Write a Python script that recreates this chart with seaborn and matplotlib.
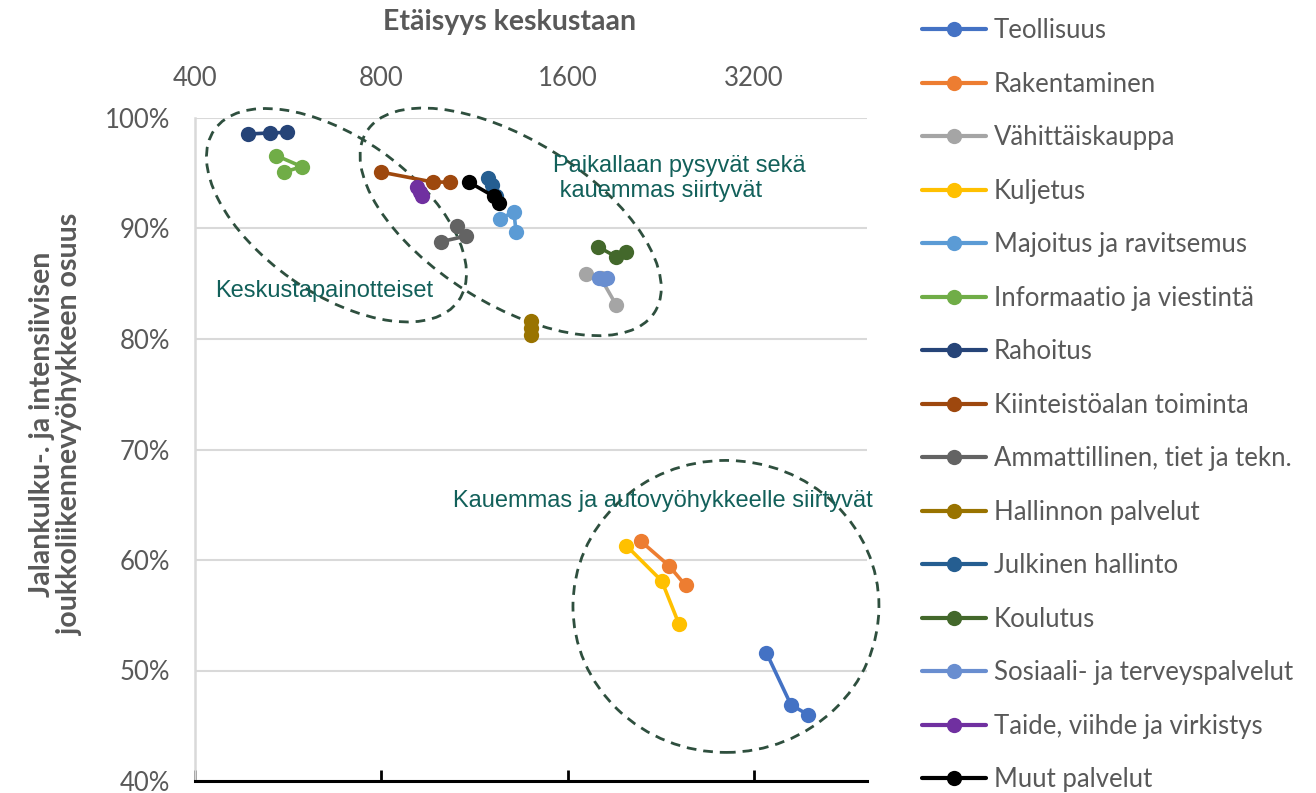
import pandas as pd
import matplotlib
matplotlib.use("Agg")
import matplotlib.pyplot as plt
import seaborn as sns
from matplotlib.lines import Line2D
from matplotlib.patches import Ellipse
from matplotlib.transforms import ScaledTranslation
from matplotlib.ticker import FuncFormatter, NullLocator

# --- DATA ---
toimialat = ["Teollisuus", "Rakentaminen", "Vähittäiskauppa", "Kuljetus",
             "Majoitus ja ravitsemus", "Informaatio ja viestintä", "Rahoitus",
             "Kiinteistöalan toiminta", "Ammattillinen, tiet ja tekn.",
             "Hallinnon palvelut", "Julkinen hallinto", "Koulutus",
             "Sosiaali- ja terveyspalvelut", "Taide, viihde ja virkistys",
             "Muut palvelut"]
varit = ["#4472C4", "#ED7D31", "#A5A5A5", "#FFC000", "#5B9BD5", "#70AD47",
         "#264478", "#9E480E", "#636363", "#997300", "#255E91", "#43682B",
         "#698ED0", "#7030A0", "#000000"]

# distance to centre (m) and share (%) for three points per industry
teollisuus_x = [3350, 3670, 3910]
teollisuus_y = [51.6, 46.9, 46.0]
rakentaminen_x = [2100, 2330, 2480]
rakentaminen_y = [61.7, 59.5, 57.7]
vahittais_x = [1710, 1810, 1915]
vahittais_y = [85.9, 85.5, 83.1]
kuljetus_x = [1990, 2270, 2420]
kuljetus_y = [61.3, 58.1, 54.2]
majoitus_x = [1245, 1310, 1320]
majoitus_y = [90.9, 91.5, 89.7]
informaatio_x = [541, 595, 557]
informaatio_y = [96.6, 95.6, 95.1]
rahoitus_x = [488, 529, 564]
rahoitus_y = [98.55, 98.65, 98.7]
kiinteisto_x = [800, 970, 1034]
kiinteisto_y = [95.1, 94.2, 94.2]
ammatillinen_x = [997, 1094, 1061]
ammatillinen_y = [88.8, 89.3, 90.2]
hallinnon_x = [1394, 1394, 1394]
hallinnon_y = [81.6, 81.0, 80.4]
julkinen_x = [1188, 1206, 1225]
julkinen_y = [94.6, 93.9, 92.9]
koulutus_x = [1791, 1914, 1986]
koulutus_y = [88.35, 87.45, 87.9]
sosiaali_x = [1800, 1830, 1850]
sosiaali_y = [85.55, 85.45, 85.5]
taide_x = [914, 922, 931]
taide_y = [93.8, 93.3, 92.9]
muut_x = [1108, 1216, 1239]
muut_y = [94.2, 92.9, 92.3]

xs = [teollisuus_x, rakentaminen_x, vahittais_x, kuljetus_x, majoitus_x,
      informaatio_x, rahoitus_x, kiinteisto_x, ammatillinen_x, hallinnon_x,
      julkinen_x, koulutus_x, sosiaali_x, taide_x, muut_x]
ys = [teollisuus_y, rakentaminen_y, vahittais_y, kuljetus_y, majoitus_y,
      informaatio_y, rahoitus_y, kiinteisto_y, ammatillinen_y, hallinnon_y,
      julkinen_y, koulutus_y, sosiaali_y, taide_y, muut_y]

rows = []
for name, x, y in zip(toimialat, xs, ys):
    for i in range(len(x)):
        rows.append({"toimiala": name, "etaisyys": x[i], "osuus": y[i], "vaihe": i})
df = pd.DataFrame(rows)

# --- PLOT ---
sns.set_theme(style="white")
plt.rcParams["font.family"] = ["Lato", "DejaVu Sans"]
GREY = "#595959"
NOTE = "#12605A"

fig = plt.figure(figsize=(13.16, 7.93), dpi=100)
ax = fig.add_axes([195 / 1316, 1 - 781 / 793, 672 / 1316, 663 / 793])

ax.set_xscale("log", base=2)
ax.set_xlim(400, 4870)
ax.set_ylim(40, 100)

for level in range(40, 101, 10):
    ax.axhline(level, color="#D9D9D9", lw=1.5, zorder=0)

sns.lineplot(data=df, x="etaisyys", y="osuus", hue="toimiala",
             hue_order=toimialat, palette=varit, estimator=None, sort=False,
             marker="o", markersize=11, markeredgewidth=0, linewidth=2.6,
             legend=False, ax=ax)

ax.set_xticks([400, 800, 1600, 3200])
ax.set_xticklabels(["400", "800", "1600", "3200"])
ax.xaxis.set_minor_locator(NullLocator())
ax.tick_params(axis="x", bottom=True, top=False, labelbottom=False, labeltop=True,
               direction="in", length=8, width=2, color="black",
               labelsize=18.5, labelcolor=GREY, pad=19.5)
ax.set_yticks(range(40, 101, 10))
ax.yaxis.set_major_formatter(FuncFormatter(lambda v, p: f"{v:.0f}%"))
ax.tick_params(axis="y", length=0, labelsize=18.5, labelcolor=GREY, pad=18)
ax.set_xlabel("")
ax.set_ylabel("")

for s in ["top", "right"]:
    ax.spines[s].set_visible(False)
ax.spines["left"].set_color("#D9D9D9")
ax.spines["left"].set_linewidth(1.8)
ax.spines["bottom"].set_color("black")
ax.spines["bottom"].set_linewidth(2.2)

fig.text(510 / 1316, 1 - 22 / 793, "Etäisyys keskustaan", ha="center", va="center",
         fontsize=20.5, fontweight="bold", color=GREY)
fig.text(56 / 1316, 1 - 424 / 793,
         "Jalankulku-. ja intensiivisen\njoukkoliikennevyöhykkeen osuus",
         rotation=90, ha="center", va="center", fontsize=20.5, fontweight="bold",
         color=GREY, linespacing=1.12)

# dashed group outlines (center in data units, size in inches)
to_axes = ax.transScale + ax.transLimits
for (cx, cy), w, h, ang in [((677, 91.2), 2.98, 1.56, -35),
                            ((1294, 90.6), 3.40, 1.64, -32),
                            ((2882, 55.8), 3.06, 2.92, 0)]:
    fx, fy = to_axes.transform((cx, cy))
    ax.add_patch(Ellipse((0, 0), w, h, angle=ang, fill=False, edgecolor="#2E4F3E",
                         lw=2, linestyle=(0, (3.5, 2.5)), clip_on=False,
                         transform=fig.dpi_scale_trans + ScaledTranslation(fx, fy, ax.transAxes)))

ax.text(431, 84.3, "Keskustapainotteiset", ha="left", va="center",
        fontsize=17, color=NOTE, family=["Liberation Sans"])
ax.text(1515, 94.5, "Paikallaan pysyvät sekä\n kauemmas siirtyvät", ha="left", va="center",
        fontsize=17, color=NOTE, family=["Liberation Sans"], linespacing=1.15)
ax.text(2280, 65.3, "Kauemmas ja autovyöhykkeelle siirtyvät", ha="center", va="center",
        fontsize=17, color=NOTE, family=["Liberation Sans"])

handles = [Line2D([], [], color=c, marker="o", markersize=11, markeredgewidth=0, lw=3)
           for c in varit]
leg = fig.legend(handles, toimialat, loc="upper left",
                 bbox_to_anchor=(922 / 1316, 1 - 18 / 793), frameon=False,
                 fontsize=18.5, handlelength=2.5, handletextpad=0.3,
                 labelspacing=1.11, borderpad=0, borderaxespad=0)
for t in leg.get_texts():
    t.set_color(GREY)

fig.savefig("out.png", dpi=100)
